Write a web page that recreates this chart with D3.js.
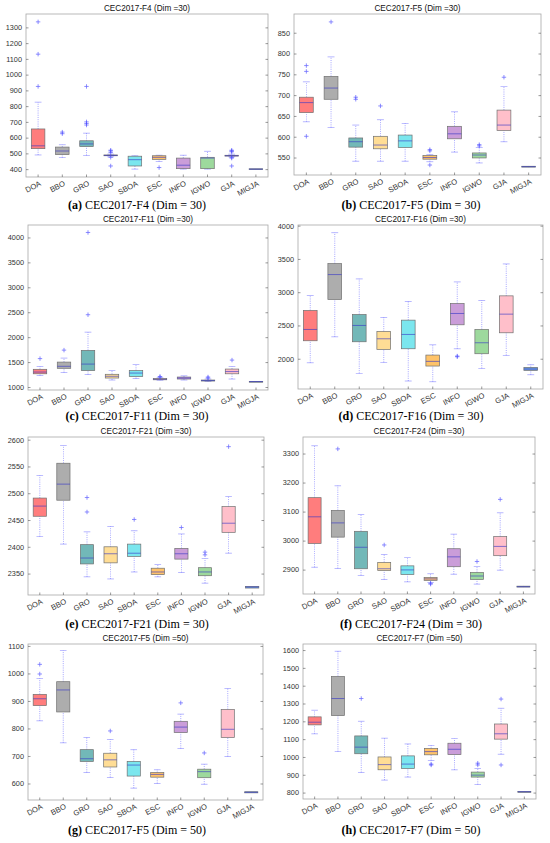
<!DOCTYPE html>
<html>
<head>
<meta charset="utf-8">
<script src="https://cdn.jsdelivr.net/npm/d3@7"></script>
<style>
  body { margin: 0; background: #fff; }
  svg { display: block; }
</style>
</head>
<body>
<div id="chart"></div>
<script>
// Algorithms (x categories)
const algorithms = ["DOA", "BBO", "GRO", "SAO", "SBOA", "ESC", "INFO", "IGWO", "GJA", "MIGJA"];

// box stats per algorithm: [whiskerLow, q1, median, q3, whiskerHigh]
const f4Dim30 = [[490,530,548,655,825],[473,492,515,540,555],[487,543,560,580,628],[478,485,487,490,495],[400,420,460,482,485],
                 [448,462,475,485,488],[400,403,425,470,488],[400,403,470,475,513],[478,483,485,488,495],[398,398,400,402,402]];
const f4Dim30Out = [[925,1130,1335],[625,635],[680,690,700,925],[420,475,505,515,520],[],[410],[],[],[420,470,475,510,515,520],[]];

const f5Dim30 = [[636,658,682,695,732],[622,690,717,745,792],[541,575,588,597,628],[541,571,580,601,641],[541,574,590,604,632],
                 [540,546,550,555,557],[563,595,607,625,660],[537,549,556,561,574],[588,615,628,664,721],[527,527,528,529,529]];
const f5Dim30Out = [[601,757,771],[876],[690,695],[674],[],[532,566,569],[],[578,581],[743],[]];

const f11Dim30 = [[1230,1265,1300,1355,1410],[1290,1375,1415,1500,1580],[1250,1330,1460,1735,2100],[1140,1180,1215,1255,1330],[1170,1210,1280,1330,1450],
                  [1135,1145,1155,1170,1185],[1140,1160,1180,1200,1225],[1110,1120,1130,1140,1160],[1160,1265,1310,1360,1410],[1108,1108,1110,1112,1112]];
const f11Dim30Out = [[1570],[1740],[2450,4100],[],[],[1200,1210],[],[1180,1200],[1540],[]];

const f16Dim30 = [[1940,2270,2440,2725,2950],[2330,2890,3265,3430,3895],[1780,2255,2500,2665,3200],[1945,2140,2300,2410,2620],[1665,2150,2365,2580,2860],
                  [1655,1890,1960,2055,2210],[2150,2510,2680,2830,3155],[1855,2075,2240,2440,2875],[2050,2390,2670,2945,3425],[1760,1825,1845,1870,1910]];
const f16Dim30Out = [[],[],[],[],[],[],[2030,2040],[],[],[]];

const f21Dim30 = [[2419,2457,2476,2491,2533],[2405,2487,2517,2556,2589],[2344,2368,2379,2404,2428],[2340,2370,2387,2400,2438],[2353,2382,2388,2405,2430],
                  [2344,2348,2353,2360,2367],[2352,2377,2387,2397,2424],[2332,2346,2353,2361,2378],[2388,2427,2444,2475,2494],[2323,2323,2325,2326,2326]];
const f21Dim30Out = [[],[],[2465,2492],[],[2451],[],[2436],[2385,2390],[2587],[]];

const f24Dim30 = [[2908,2990,3082,3148,3327],[2904,3012,3061,3104,3189],[2880,2903,2977,3032,3090],[2866,2897,2903,2925,2952],[2858,2883,2899,2913,2942],
                  [2856,2863,2868,2873,2886],[2884,2910,2944,2972,3022],[2850,2866,2878,2890,2911],[2898,2948,2980,3014,3096],[2840,2840,2841,2843,2843]];
const f24Dim30Out = [[],[3316],[],[2985],[],[2850,2853],[],[2928],[3142],[]];

const f5Dim50 = [[828,883,908,924,982],[748,860,940,970,1083],[640,680,690,723,767],[622,660,686,710,760],[583,627,667,680,723],
                 [600,623,633,640,650],[727,785,805,826,852],[597,621,643,652,670],[698,767,797,869,945],[566,566,568,570,570]];
const f5Dim50Out = [[998,1033],[],[],[791],[],[],[893],[711],[],[]];

const f7Dim50 = [[1130,1180,1195,1225,1262],[1030,1232,1328,1452,1593],[913,1018,1055,1118,1200],[870,928,957,1000,1105],[887,935,960,1006,1073],
                 [980,1012,1030,1048,1065],[928,1013,1043,1077,1103],[845,887,898,915,935],[1015,1100,1130,1185,1273],[803,803,805,806,806]];
const f7Dim50Out = [[],[],[1328],[],[],[955,960],[],[955,965],[955,1325],[]];

// y tick labels
const f4Ticks = [400,500,600,700,800,900,1000,1100,1200,1300];
const f5Ticks = [550,600,650,700,750,800,850];
const f11Ticks = [1000,1500,2000,2500,3000,3500,4000];
const f16Ticks = [2000,2500,3000,3500,4000];
const f21Ticks = [2350,2400,2450,2500,2550,2600];
const f24Ticks = [2900,3000,3100,3200,3300];
const f5d50Ticks = [600,700,800,900,1000,1100];
const f7Ticks = [800,900,1000,1100,1200,1300,1400,1500,1600];

const titles = ["CEC2017-F4 (Dim =30)", "CEC2017-F5 (Dim =30)", "CEC2017-F11 (Dim =30)", "CEC2017-F16 (Dim =30)",
                "CEC2017-F21 (Dim =30)", "CEC2017-F24 (Dim =30)", "CEC2017-F5 (Dim =50)", "CEC2017-F7 (Dim =50)"];
const captionLetters = ["(a)", "(b)", "(c)", "(d)", "(e)", "(f)", "(g)", "(h)"];
const captions = ["CEC2017-F4 (Dim = 30)", "CEC2017-F5 (Dim = 30)", "CEC2017-F11 (Dim = 30)", "CEC2017-F16 (Dim = 30)",
                  "CEC2017-F21 (Dim = 30)", "CEC2017-F24 (Dim = 30)", "CEC2017-F5 (Dim = 50)", "CEC2017-F7 (Dim = 50)"];

const COLORS = ["#ff5c5c", "#999999", "#4fa6a6", "#ffd47a", "#5ae0ea", "#ffb443", "#bd85d0", "#85cf85", "#ffafbd", "#4a8fd0"];
const FONT = "'Liberation Sans', Arial, sans-serif";
const SERIF = "'Liberation Serif', 'Times New Roman', serif";

// panel frames: [left, top, right, bottom], y-domain
const panels = [
  { stats: f4Dim30,  out: f4Dim30Out,  ticks: f4Ticks,   dom: [350, 1385], box: [26, 14, 268, 177] },
  { stats: f5Dim30,  out: f5Dim30Out,  ticks: f5Ticks,   dom: [508, 895],  box: [294, 14, 541, 175] },
  { stats: f11Dim30, out: f11Dim30Out, ticks: f11Ticks,  dom: [940, 4250], box: [28, 225, 268, 390] },
  { stats: f16Dim30, out: f16Dim30Out, ticks: f16Ticks,  dom: [1545, 4010], box: [298, 225, 543, 389] },
  { stats: f21Dim30, out: f21Dim30Out, ticks: f21Ticks,  dom: [2310, 2605], box: [28, 437, 264, 595] },
  { stats: f24Dim30, out: f24Dim30Out, ticks: f24Ticks,  dom: [2816, 3357], box: [303, 437, 535, 594] },
  { stats: f5Dim50,  out: f5Dim50Out,  ticks: f5d50Ticks, dom: [540, 1107], box: [28, 644, 263, 800] },
  { stats: f7Dim50,  out: f7Dim50Out,  ticks: f7Ticks,   dom: [764, 1634], box: [303, 644, 536, 799] }
];
const captionY = [209, 209, 420, 420, 628, 628, 834, 834];

const svg = d3.select("#chart").append("svg")
  .attr("width", 550)
  .attr("height", 843);

function plotPanel(p, i) {
  const [left, top, right, bottom] = p.box;
  const x = d3.scaleBand().domain(algorithms).range([left, right]).padding(0);
  const y = d3.scaleLinear().domain(p.dom).range([bottom, top]);
  const bw = x.bandwidth() * 0.56;
  const g = svg.append("g");

  // frame
  g.append("rect")
    .attr("x", left).attr("y", top)
    .attr("width", right - left).attr("height", bottom - top)
    .attr("fill", "#fff").attr("stroke", "#a8a8a8").attr("stroke-width", 0.8);

  // y axis left + right ticks
  const ya = g.append("g").attr("transform", `translate(${left},0)`)
    .call(d3.axisLeft(y).tickValues(p.ticks).tickSize(-2.5).tickPadding(4).tickFormat(d3.format("d")));
  ya.select(".domain").remove();
  ya.selectAll("line").attr("stroke", "#555").attr("stroke-width", 0.6);
  ya.selectAll("text").attr("fill", "#333").style("font-family", FONT).style("font-size", "7.3px");

  const yr = g.append("g").attr("transform", `translate(${right},0)`)
    .call(d3.axisRight(y).tickValues(p.ticks).tickSize(-2.5).tickFormat(""));
  yr.select(".domain").remove();
  yr.selectAll("line").attr("stroke", "#555").attr("stroke-width", 0.6);

  // x tick labels (rotated)
  g.selectAll("text.xl").data(algorithms).enter().append("text")
    .attr("class", "xl")
    .attr("transform", d => `translate(${x(d) + x.bandwidth() / 2 + 3.5},${bottom + 8}) rotate(-28)`)
    .attr("text-anchor", "end")
    .attr("fill", "#333")
    .style("font-family", FONT).style("font-size", "7.6px")
    .text(d => d);
  // small bottom ticks
  g.selectAll("line.xt").data(algorithms).enter().append("line")
    .attr("x1", d => x(d) + x.bandwidth() / 2).attr("x2", d => x(d) + x.bandwidth() / 2)
    .attr("y1", bottom).attr("y2", bottom - 2.5)
    .attr("stroke", "#555").attr("stroke-width", 0.6);

  const cx = (d, j) => x(algorithms[j]) + x.bandwidth() / 2;

  // whiskers
  const wh = g.append("g").attr("stroke", "#5858ff").attr("stroke-width", 0.7);
  p.stats.forEach((s, j) => {
    const c = cx(s, j);
    wh.append("line").attr("x1", c).attr("x2", c).attr("y1", y(s[0])).attr("y2", y(s[1]))
      .attr("stroke-dasharray", "1,1.2").attr("opacity", 0.75);
    wh.append("line").attr("x1", c).attr("x2", c).attr("y1", y(s[3])).attr("y2", y(s[4]))
      .attr("stroke-dasharray", "1,1.2").attr("opacity", 0.75);
    if (s[0] < s[1]) wh.append("line").attr("x1", c - bw * 0.25).attr("x2", c + bw * 0.25).attr("y1", y(s[0])).attr("y2", y(s[0])).attr("opacity", 0.6);
    if (s[4] > s[3]) wh.append("line").attr("x1", c - bw * 0.25).attr("x2", c + bw * 0.25).attr("y1", y(s[4])).attr("y2", y(s[4])).attr("opacity", 0.6);
  });

  // boxes
  g.selectAll("rect.bx").data(p.stats).enter().append("rect")
    .attr("class", "bx")
    .attr("x", (d, j) => cx(d, j) - bw / 2)
    .attr("y", d => y(d[3]))
    .attr("width", bw)
    .attr("height", d => Math.max(0.8, y(d[1]) - y(d[3])))
    .attr("fill", (d, j) => COLORS[j])
    .attr("fill-opacity", 0.8)
    .attr("stroke", "#707070")
    .attr("stroke-width", 0.7);

  // medians
  g.selectAll("line.md").data(p.stats).enter().append("line")
    .attr("x1", (d, j) => cx(d, j) - bw / 2)
    .attr("x2", (d, j) => cx(d, j) + bw / 2)
    .attr("y1", d => y(d[2])).attr("y2", d => y(d[2]))
    .attr("stroke", "#3a3ac8").attr("stroke-opacity", 0.7).attr("stroke-width", 0.9);

  // outliers "+"
  const pts = [];
  p.out.forEach((arr, j) => arr.forEach(v => pts.push({ j: j, v: v })));
  g.selectAll("path.ol").data(pts).enter().append("path")
    .attr("d", d => {
      const c = x(algorithms[d.j]) + x.bandwidth() / 2, yy = y(d.v), r = 2.2;
      return `M${c - r},${yy}H${c + r}M${c},${yy - r}V${yy + r}`;
    })
    .attr("stroke", "#4d4dff").attr("stroke-width", 0.8).attr("opacity", 0.8);

  // title
  g.append("text")
    .attr("x", (left + right) / 2).attr("y", top - 3.5)
    .attr("text-anchor", "middle")
    .style("font-family", FONT).style("font-size", "8.2px")
    .attr("fill", "#111")
    .text(titles[i]);

  // caption
  const cap = g.append("text")
    .attr("x", i % 2 === 0 ? 137 : 411).attr("y", captionY[i])
    .attr("text-anchor", "middle")
    .style("font-family", SERIF).style("font-size", "12px")
    .attr("fill", "#000");
  cap.append("tspan").style("font-weight", "bold").text(captionLetters[i]);
  cap.append("tspan").text(" " + captions[i]);
}

panels.forEach(plotPanel);
</script>
</body>
</html>
